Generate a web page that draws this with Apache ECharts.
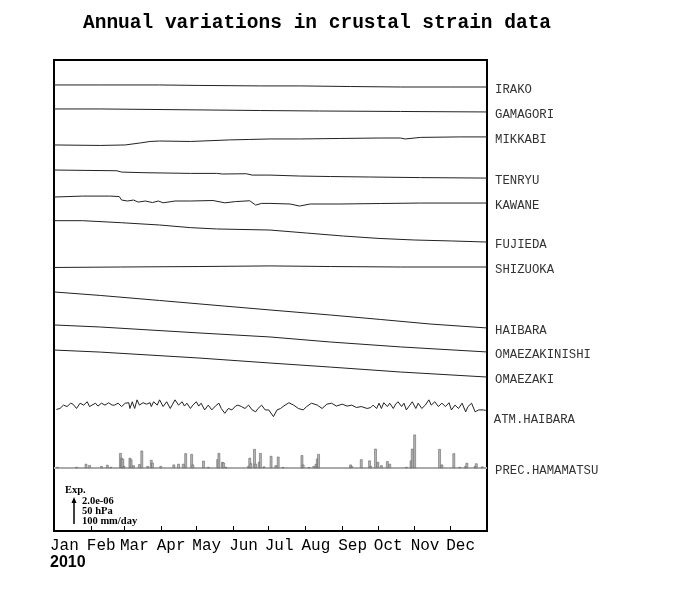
<!DOCTYPE html>
<html><head><meta charset="utf-8">
<script src="https://cdn.jsdelivr.net/npm/echarts@6/dist/echarts.min.js"></script>
<style>html,body{margin:0;padding:0;background:#fff}#c{width:700px;height:600px}</style>
</head><body><div id="c"></div>
<script>
// ---- data (day of year 2010, strain change in 1e-6, pressure hPa, precip mm/day)
const months = ['Jan','Feb','Mar','Apr','May','Jun','Jul','Aug','Sep','Oct','Nov','Dec'];
const monthStarts = [0,31,59,90,120,151,181,212,243,273,304,334];

const irakoDays = [0,39,89,123,174,207,250,292,334,365];
const irako     = [0,0,0,-0.04,-0.08,-0.08,-0.13,-0.17,-0.17,-0.17];
const gamagoriDays = [0,39,123,174,224,292,365];
const gamagori     = [0,0,-0.08,-0.13,-0.17,-0.21,-0.25];
const mikkabiDays = [0,39,60,73,81,89,115,148,165,182,207,241,275,292,296,309,342,365];
const mikkabi     = [0,-0.04,0,0.17,0.29,0.33,0.29,0.42,0.46,0.5,0.5,0.54,0.58,0.58,0.5,0.63,0.67,0.67];
const tenryuDays = [0,53,57,75,115,137,142,162,167,182,207,233,266,309,365];
const tenryu     = [0,-0.06,-0.17,-0.22,-0.28,-0.28,-0.33,-0.31,-0.42,-0.42,-0.5,-0.54,-0.58,-0.63,-0.67];
const kawaneDays = [0,24,47,55,57,62,67,71,77,83,88,92,102,115,134,144,153,165,170,175,182,199,207,216,241,275,309,365];
const kawane     = [0,0.08,0.08,0.04,-0.25,-0.33,-0.25,-0.42,-0.33,-0.46,-0.33,-0.48,-0.33,-0.33,-0.29,-0.48,-0.38,-0.31,-0.67,-0.53,-0.53,-0.58,-0.75,-0.58,-0.58,-0.54,-0.5,-0.5];
const fujiedaDays = [0,24,57,89,115,137,182,213,244,274,304,335,365];
const fujieda     = [0,0,-0.17,-0.36,-0.58,-0.69,-0.78,-1.03,-1.28,-1.48,-1.61,-1.69,-1.78];
const shizuokaDays = [0,56,123,182,233,292,365];
const shizuoka     = [0,0.04,0.08,0.13,0.08,0.04,0.04];
const haibaraDays = [0,39,89,123,182,233,275,317,365];
const haibara     = [0,-0.29,-0.71,-1.0,-1.5,-1.92,-2.29,-2.67,-3.0];
const omaeNishiDays = [0,39,123,182,233,292,365];
const omaeNishi     = [0,-0.17,-0.67,-1.0,-1.42,-1.83,-2.25];
const omaezakiDays = [0,39,123,182,233,292,365];
const omaezaki     = [0,-0.17,-0.67,-1.08,-1.42,-1.83,-2.25];

const atmDays = [2,5,8,11,14,16,19,22,25,28,30,32,35,37,40,43,46,49,51,54,57,60,63,64,66,68,70,72,75,78,81,82,84,87,89,92,95,98,100,102,105,108,110,112,115,117,120,122,124,127,130,133,136,139,141,144,147,150,153,155,158,161,164,167,170,172,175,178,181,
  182,185,188,191,193,198,202,206,210,213,217,222,226,230,234,238,243,247,251,255,259,264,267,269,272,274,276,278,281,283,286,288,290,293,295,297,300,302,305,307,310,313,316,318,321,324,327,330,333,335,338,341,344,347,349,352,355,358,362,364];
const atmHpa = [1010,1012,1019,1016,1023,1021,1012,1023,1019,1026,1016,1019,1023,1017,1023,1019,1024,1019,1019,1023,1016,1023,1024,1012,1026,1012,1030,1019,1024,1021,1024,1016,1026,1019,1030,1016,1026,1012,1021,1030,1019,1026,1017,1023,1012,1019,1026,1017,1023,1009,1019,1009,1017,1023,1012,1002,1012,1009,1017,1019,1016,1012,1019,1009,1005,1012,1019,1009,1009,
  1012,995,1009,1012,1016,1024,1019,1012,1009,1016,1023,1019,1012,1021,1023,1017,1021,1017,1019,1014,1016,1012,1014,1019,1012,1023,1012,1024,1016,1023,1012,1021,1026,1016,1023,1009,1019,1026,1012,1023,1012,1019,1030,1019,1026,1016,1023,1016,1024,1009,1019,1012,1023,1005,1016,1023,1005,1009,1009,1008];

const precDays = [3,19,27,30,40,45,48,56,57,58,59,64,65,67,72,74,79,82,83,90,101,105,109,111,116,117,126,130,138,139,142,143,145,164,165,166,169,170,173,174,177,183,187,189,193,209,210,215,219,221,222,223,250,251,259,266,267,271,273,276,281,283,297,301,302,304,325,327,337,342,347,348,355,356,361];
const precMm   = [4,4,17,12,8,13,4,62,42,38,8,42,35,11,16,72,8,33,21,8,14,17,17,61,58,14,30,4,36,62,25,22,4,8,42,19,79,17,25,62,6,50,11,47,3,53,14,3,8,17,39,58,14,7,36,31,8,80,25,11,28,17,4,31,80,139,79,14,61,4,8,21,8,19,6];

// ---- layout (vertical placement of each trace, in strain-axis units of 1e-6)
const layout = {
  strainMax: 39.25,
  IRAKO: 37.17, GAMAGORI: 35.17, MIKKABI: 32.17, TENRYU: 30.08, KAWANE: 27.83,
  FUJIEDA: 25.86, SHIZUOKA: 21.96, HAIBARA: 19.92, OMAEZAKINISHI: 17.17, OMAEZAKI: 15.08,
  atmMin: 756.75, atmMax: 1738, precMin: -262.5, precMax: 1700
};

const stations = [
  ['IRAKO', irakoDays, irako], ['GAMAGORI', gamagoriDays, gamagori], ['MIKKABI', mikkabiDays, mikkabi],
  ['TENRYU', tenryuDays, tenryu], ['KAWANE', kawaneDays, kawane], ['FUJIEDA', fujiedaDays, fujieda],
  ['SHIZUOKA', shizuokaDays, shizuoka], ['HAIBARA', haibaraDays, haibara],
  ['OMAEZAKINISHI', omaeNishiDays, omaeNishi], ['OMAEZAKI', omaezakiDays, omaezaki]
];

const MONO = "'Liberation Mono', 'DejaVu Sans Mono', monospace";
const SERIFB = "bold 10.5px 'Liberation Serif', serif";
function endLabel(name) {
  return { show: true, formatter: name, color: '#333', fontFamily: MONO, fontSize: 12.3, distance: 8, offset: [0, 3] };
}
const series = stations.map(([name, d, v]) => ({
  type: 'line', name, yAxisIndex: 0, symbol: 'none', silent: true,
  lineStyle: { color: '#222', width: 1 },
  data: d.map((x, i) => [x, layout[name] + v[i]]),
  endLabel: endLabel(name)
}));
series.push({
  type: 'line', name: 'ATM.HAIBARA', yAxisIndex: 1, symbol: 'none',
  lineStyle: { color: '#222', width: 1 },
  data: atmDays.map((x, i) => [x, atmHpa[i]]),
  endLabel: Object.assign(endLabel('ATM.HAIBARA'), { offset: [0, 9] })
});
series.push({
  type: 'line', name: 'precBase', yAxisIndex: 2, symbol: 'none',
  lineStyle: { color: '#aaa', width: 2 },
  data: [[0, 0], [365, 0]],
  endLabel: endLabel('PREC.HAMAMATSU'), z: 1
});
series.push({
  type: 'bar', name: 'PREC', yAxisIndex: 2, barWidth: 2.5, z: 3,
  itemStyle: { color: '#b4b4b4', borderColor: '#555', borderWidth: 0.5 },
  data: precDays.map((x, i) => [x, precMm[i]])
});

const chart = echarts.init(document.getElementById('c'), null, { renderer: 'canvas' });
chart.setOption({
  animation: false,
  backgroundColor: '#fff',
  title: [
    { text: 'Annual variations in crustal strain data', left: 83, top: 13, padding: 0,
      textStyle: { fontFamily: MONO, fontWeight: 'bold', fontSize: 19.5, color: '#000' } },
    { text: '2010', left: 50, top: 555, padding: 0,
      textStyle: { fontFamily: "'Liberation Sans', Arial, sans-serif", fontWeight: 'bold', fontSize: 16, color: '#000' } }
  ],
  grid: { left: 54, top: 60, width: 433, height: 471, show: true, borderColor: '#000', borderWidth: 2 },
  xAxis: {
    type: 'value', min: 0, max: 365,
    splitLine: { show: false }, axisLine: { show: false },
    axisTick: { show: true, inside: true, length: 5, customValues: monthStarts.slice(1), lineStyle: { color: '#000', width: 1 } },
    axisLabel: { customValues: monthStarts, formatter: v => months[monthStarts.indexOf(v)] || '',
      align: 'left', margin: 7, padding: [0, 0, 0, -4], fontFamily: MONO, fontSize: 16, color: '#000' }
  },
  yAxis: [
    { type: 'value', min: 0, max: layout.strainMax, show: false },
    { type: 'value', min: layout.atmMin, max: layout.atmMax, show: false },
    { type: 'value', min: layout.precMin, max: layout.precMax, show: false }
  ],
  graphic: [
    { type: 'text', left: 65, top: 485, style: { text: 'Exp.', font: SERIFB, fill: '#000' } },
    { type: 'line', shape: { x1: 74, y1: 524, x2: 74, y2: 501 }, style: { stroke: '#000', lineWidth: 1.5 } },
    { type: 'polygon', shape: { points: [[71.5, 503], [76.5, 503], [74, 497]] }, style: { fill: '#000' } },
    { type: 'text', left: 82, top: 496, style: { text: '2.0e-06', font: SERIFB, fill: '#000' } },
    { type: 'text', left: 82, top: 506, style: { text: '50 hPa', font: SERIFB, fill: '#000' } },
    { type: 'text', left: 82, top: 516, style: { text: '100 mm/day', font: SERIFB, fill: '#000' } }
  ],
  series
});
</script></body></html>
